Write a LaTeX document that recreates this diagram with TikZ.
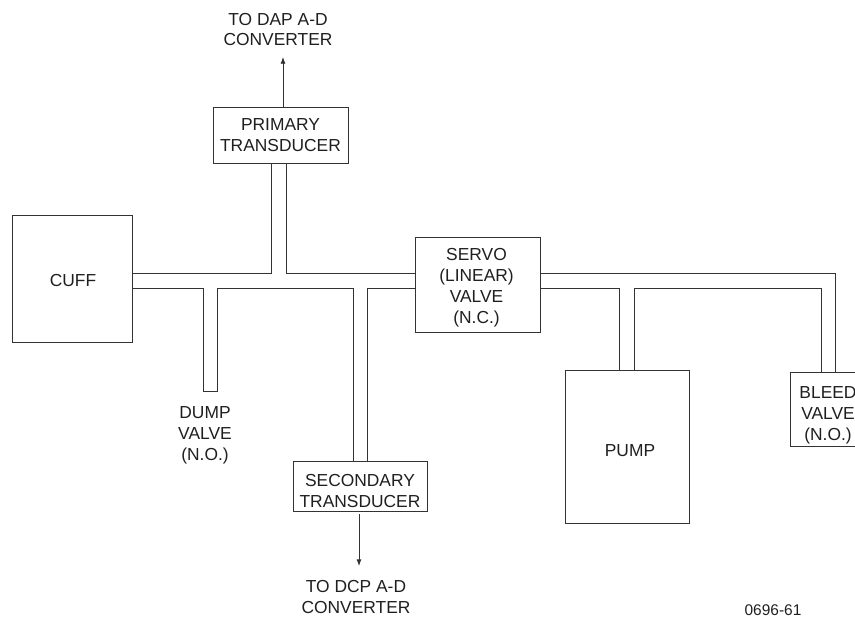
\documentclass[tikz,border=0pt]{standalone}
\usepackage{fontspec}
\setmainfont{Liberation Sans}
\usetikzlibrary{arrows.meta,calc}
\definecolor{LineClr}{rgb}{0.2,0.2,0.2}
\definecolor{TextClr}{rgb}{0.12,0.12,0.12}

\tikzset{
  txt/.style={align=center,inner sep=0pt,text=TextClr,font=\fontsize{14.85pt}{17.8pt}\selectfont},
  unit/.style={draw=LineClr,line width=.75pt,inner sep=0pt},
  pipe/.style={draw=LineClr,line width=.75pt,line join=miter},
  flow/.style={draw=LineClr,line width=.7pt,-{Latex[length=2mm,width=1.5mm]}}
}

\begin{document}
\begin{tikzpicture}[x=.3mm,y=-.3mm]
\useasboundingbox (0,0) rectangle (855,617);

\node[unit,minimum width=40.5mm,minimum height=16.8mm] (primary) at (280.5,135) {};
\node[unit,minimum width=36mm,minimum height=38.1mm] (cuff) at (72.5,278.5) {};
\node[unit,minimum width=37.4mm,minimum height=28.5mm] (servo) at (477.7,284.5) {};
\node[unit,minimum width=37.2mm,minimum height=45.9mm] (pump) at (627,446.5) {};
\node[unit,minimum width=40mm,minimum height=15mm] (secondary) at (360.3,486) {};

\node[txt] (primaryText) at (280.5,135.5) {PRIMARY\\TRANSDUCER};
\node[txt] (cuffText) at (73,280.5) {CUFF};
\node[txt] (servoText) at (476.5,287.5) {SERVO\\(LINEAR)\\VALVE\\(N.C.)};
\node[txt] (pumpText) at (630,451) {PUMP};
\node[txt] (secondaryText) at (360,491) {SECONDARY\\TRANSDUCER};
\node[txt] (bleedText) at (828,415) {BLEED\\VALVE\\(N.O.)};
\node[txt] (dumpText) at (205,435.5) {DUMP\\VALVE\\(N.O.)};
\node[txt] (dapText) at (278,29.5) {TO DAP A-D\\CONVERTER};
\node[txt] (dcpText) at (356,597) {TO DCP A-D\\CONVERTER};
\node[txt,font=\fontsize{13.2pt}{15pt}\selectfont] (figNo) at (773,610) {0696-61};

% rails and branch ends
\coordinate (railT) at (0,273);
\coordinate (railB) at (0,288);
\coordinate (primL) at (271,163);
\coordinate (primR) at (286,163);
\coordinate (dumpL) at (203,391);
\coordinate (dumpR) at (217,391);
\coordinate (secL) at (353,461);
\coordinate (secR) at (367,461);
\coordinate (pumpL) at (619,370);
\coordinate (pumpR) at (634,370);
\coordinate (bleedL) at (821,372);
\coordinate (bleedR) at (835,372);
\coordinate (dapEnd) at (283,57);
\coordinate (dcpEnd) at (359,566);

% bleed valve runs off the page
\draw[pipe] (855,372) -- (790,372) -- (790,446) -- (855,446);

\draw[pipe] (cuff.east |- railT) -| (primL);
\draw[pipe] (primR) |- (servo.west |- railT);
\draw[pipe] (cuff.east |- railB) -| (dumpL) -- (dumpR) |- (secL |- railB) -- (secL);
\draw[pipe] (secR) |- (servo.west |- railB);
\draw[pipe] (servo.east |- railT) -| (bleedR);
\draw[pipe] (servo.east |- railB) -| (pumpL);
\draw[pipe] (pumpR) |- (bleedL |- railB) -- (bleedL);

\draw[flow] (primary.north -| dapEnd) -- (dapEnd);
\draw[flow,shorten <=.9mm] (secondary.south -| dcpEnd) -- (dcpEnd);

\end{tikzpicture}
\end{document}
